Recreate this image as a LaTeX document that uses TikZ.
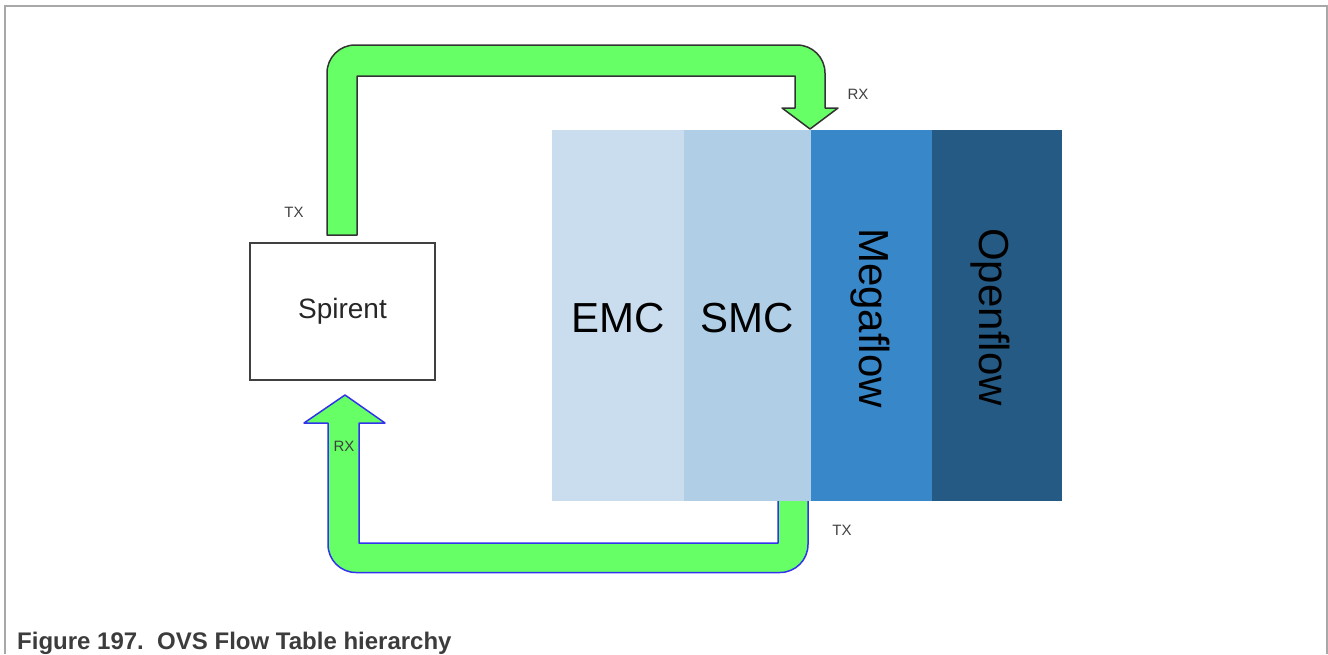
\documentclass[tikz,border=0pt]{standalone}
\usepackage{fontspec}
\setmainfont{Liberation Sans}
\definecolor{frame}{HTML}{A8A8A8}
\definecolor{arrowgreen}{HTML}{66FF66}
\definecolor{arrowblue}{HTML}{3333EE}
\definecolor{emc}{HTML}{C9DDEE}
\definecolor{smc}{HTML}{B0CFE7}
\definecolor{mega}{HTML}{3887C8}
\definecolor{openf}{HTML}{245A84}
\definecolor{labelgray}{HTML}{404040}
\definecolor{captiongray}{HTML}{3C3C3C}
\begin{document}
\begin{tikzpicture}[x=1pt,y=-1pt,
  blocktext/.style={font=\fontsize{42}{42}\selectfont, text=black, inner sep=0pt},
  smalllabel/.style={font=\fontsize{15}{15}\selectfont, text=labelgray, inner sep=0pt},
  flowarrow/.style={fill=arrowgreen, line width=1.5pt, line join=round},
]
\useasboundingbox (0,0) rectangle (1328,654);
% frame
\draw[frame, line width=2pt] (4.5,654) -- (4.5,6) -- (1327,6) -- (1327,654);

% bottom arrow (TX from blocks back to Spirent RX)
\draw[flowarrow, draw=arrowblue]
  (345,395) -- (385,423) -- (359,423) -- (359,543) -- (778,543) -- (778,495)
  -- (808,495) [rounded corners=28pt] -- (808,572.5) -- (328,572.5) [sharp corners]
  -- (328,423) -- (304,423) -- cycle;

% blocks
\fill[emc]   (552,130) rectangle (684,501);
\fill[smc]   (684,130) rectangle (811,501);
\fill[mega]  (811,130) rectangle (932,501);
\fill[openf] (932,130) rectangle (1062,501);
\coordinate (emcc) at (618,318);
\coordinate (smcc) at (747,318);
\node[blocktext] (emc) at (emcc) {EMC};
\node[blocktext] (smc) at (smcc) {SMC};
\node[blocktext, rotate=-90] (mega) at (870,318) {Megaflow};
\node[blocktext, rotate=-90] (open) at (990,317) {Openflow};

% top arrow (Spirent TX to blocks RX)
\draw[flowarrow, draw=black!80]
  (327,235) [rounded corners=28pt] -- (327,45) -- (825,45) [sharp corners]
  -- (825,108) -- (838,108) -- (810,129) -- (782,108) -- (795,108)
  -- (795,76) -- (357,76) -- (357,235) -- cycle;

% Spirent box
\node[draw=black!75, line width=1.5pt, minimum width=185pt, minimum height=137pt,
      inner sep=0pt, font=\fontsize{28}{28}\selectfont, text=black!85] (spirent) at (342.5,311.5) {Spirent};

% labels
\node[smalllabel] (tx1) at (294,212) {TX};
\node[smalllabel] (rx1) at (858,94) {RX};
\node[smalllabel] (tx2) at (842,530) {TX};
\node[smalllabel, text=black!75] (rx2) at (344,446) {RX};

% caption
\node[anchor=base west, inner sep=0pt, text=captiongray,
      font=\fontsize{24}{24}\selectfont\bfseries] (caption) at (17,649)
  {Figure 197.\ \ OVS Flow Table hierarchy};
\end{tikzpicture}
\end{document}
